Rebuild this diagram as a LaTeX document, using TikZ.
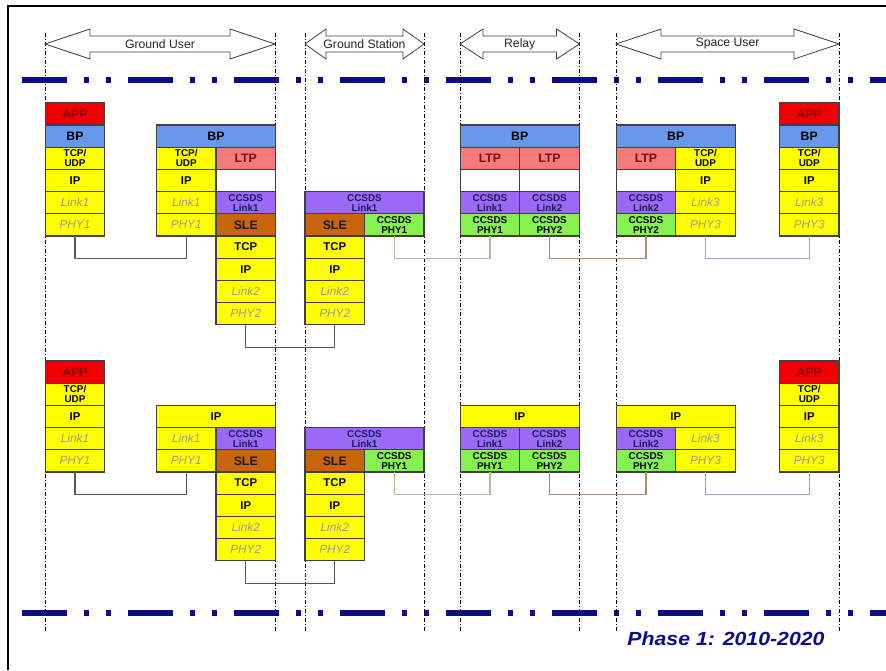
\documentclass[tikz,border=0pt]{standalone}
\usepackage{fontspec}
\setmainfont{Liberation Sans}
\newfontfamily\phasefont{Liberation Sans}[FakeStretch=1.12]
\usetikzlibrary{positioning}
\definecolor{navyline}{HTML}{0C0C86}
\definecolor{cellline}{HTML}{404040}
\definecolor{appred}{HTML}{F20000}
\definecolor{appink}{HTML}{8E0000}
\definecolor{bpblue}{HTML}{6699EE}
\definecolor{ylw}{HTML}{FFFF00}
\definecolor{italgrey}{HTML}{9C9C94}
\definecolor{ltppink}{HTML}{F57A7A}
\definecolor{ltpink}{HTML}{7A1010}
\definecolor{ccpurple}{HTML}{9B69F5}
\definecolor{ccink}{HTML}{1A1A5A}
\definecolor{ccgreen}{HTML}{86F250}
\definecolor{slebrown}{HTML}{C8640A}
\definecolor{wiregrey}{HTML}{5A5A5A}
\definecolor{wireolive}{HTML}{BCB89E}
\definecolor{wiretan}{HTML}{AE8C6E}
\definecolor{wirelilac}{HTML}{B496D2}
\tikzset{
  cell/.style      = {draw=cellline, line width=1.1pt, minimum width=59.5pt,
                      minimum height=22.2pt, inner sep=0pt, outer sep=0pt, align=center},
  widecell/.style  = {minimum width=119pt},
  bigtxt/.style    = {font=\fontsize{12.3}{13}\selectfont\bfseries},
  smalltxt/.style  = {font=\fontsize{9.9}{10.2}\selectfont\bfseries},
  appcell/.style   = {cell, bigtxt, fill=appred, text=appink},
  bpcell/.style    = {cell, bigtxt, fill=bpblue, text=black},
  tcpcell/.style   = {cell, smalltxt, fill=ylw, text=black},
  ipcell/.style    = {cell, fill=ylw, text=black, font=\fontsize{11.3}{12}\selectfont\bfseries},
  linkcell/.style  = {cell, fill=ylw, text=italgrey, font=\fontsize{11.8}{12}\selectfont\itshape},
  ltpcell/.style   = {cell, bigtxt, fill=ltppink, text=ltpink},
  cclinkcell/.style= {cell, smalltxt, fill=ccpurple, text=ccink},
  ccphycell/.style = {cell, smalltxt, fill=ccgreen, text=black},
  slecell/.style   = {cell, bigtxt, fill=slebrown, text=black!90},
  blankcell/.style = {cell, fill=white},
  wire/.style      = {draw=wiregrey, line width=1.1pt},
  guide/.style     = {draw=black, line width=0.6pt, dash pattern=on 4pt off 2pt on 1pt off 2pt},
  phaseline/.style = {draw=navyline, line width=5.5pt,
                      dash pattern=on 45pt off 17pt on 5pt off 17pt on 5pt off 17pt},
  spanarr/.style   = {draw=cellline, fill=white, line width=0.8pt},
  spanlabel/.style = {font=\fontsize{12.2}{13}\selectfont, text=black!85},
}
% double headed block arrow: name, left x, right x, head length, label
\newcommand{\spanarrow}[5]{%
  \draw[spanarr] (#2,44) -- (#2+#4,29) -- (#2+#4,36) -- (#3-#4,36) -- (#3-#4,29)
    -- (#3,44) -- (#3-#4,59) -- (#3-#4,52) -- (#2+#4,52) -- (#2+#4,59) -- cycle;
  \node[spanlabel] (#1) at ({(#2+#3)/2},44) {#5};}

\begin{document}
\begin{tikzpicture}[x=1pt,y=-1pt,node distance=0pt]
  \useasboundingbox (0,0) rectangle (886,670);
  \draw[line width=2pt] (8,670) -- (8,6) -- (886,6);

  % phase separators and column guides
  \draw[phaseline] (22,80) -- (886,80);
  \draw[phaseline] (22,613) -- (886,613);
  \foreach \gx in {45,275,305,424,460,579.5,616,839}
    \draw[guide] (\gx,33) -- (\gx,632);

  \spanarrow{lbl-gu}{45}{275}{45}{Ground User}
  \spanarrow{lbl-gs}{305}{424}{21}{Ground Station}
  \spanarrow{lbl-rel}{460}{579.5}{23}{Relay}
  \spanarrow{lbl-su}{616}{839}{45}{Space User}

  % ---------- BP stacks ----------
  % ground user host
  \node[appcell] (guh-app) at (75,113.9) {APP};
  \node[bpcell,below=of guh-app] (guh-bp) {BP};
  \node[tcpcell,below=of guh-bp] (guh-tcp) {TCP/\\UDP};
  \node[ipcell,below=of guh-tcp] (guh-ip) {IP};
  \node[linkcell,below=of guh-ip] (guh-link) {Link1};
  \node[linkcell,below=of guh-link] (guh-phy) {PHY1};

  % ground user router
  \node[bpcell,widecell] (gur-bp) at (216,136.1) {BP};
  \node[tcpcell,below right=of gur-bp.south west] (gur-tcp) {TCP/\\UDP};
  \node[ltpcell,right=of gur-tcp] (gur-ltp) {LTP};
  \node[ipcell,below=of gur-tcp] (gur-ip) {IP};
  \node[blankcell,right=of gur-ip] (gur-gap) {};
  \node[linkcell,below=of gur-ip] (gur-link) {Link1};
  \node[cclinkcell,right=of gur-link] (gur-cclink) {CCSDS\\Link1};
  \node[linkcell,below=of gur-link] (gur-phy) {PHY1};
  \node[slecell,right=of gur-phy] (gur-sle) {SLE};
  \node[ipcell,below=of gur-sle] (gur-tcp2) {TCP};
  \node[ipcell,below=of gur-tcp2] (gur-ip2) {IP};
  \node[linkcell,below=of gur-ip2] (gur-link2) {Link2};
  \node[linkcell,below=of gur-link2] (gur-phy2) {PHY2};

  % ground station
  \node[cclinkcell,widecell] (gs-cclink) at (364.5,202.7) {CCSDS\\Link1};
  \node[slecell,below right=of gs-cclink.south west] (gs-sle) {SLE};
  \node[ccphycell,right=of gs-sle] (gs-ccphy) {CCSDS\\PHY1};
  \node[ipcell,below=of gs-sle] (gs-tcp) {TCP};
  \node[ipcell,below=of gs-tcp] (gs-ip) {IP};
  \node[linkcell,below=of gs-ip] (gs-link) {Link2};
  \node[linkcell,below=of gs-link] (gs-phy) {PHY2};

  % relay
  \node[bpcell,widecell] (rel-bp) at (519.75,136.1) {BP};
  \node[ltpcell,below right=of rel-bp.south west] (rel-ltp1) {LTP};
  \node[ltpcell,right=of rel-ltp1] (rel-ltp2) {LTP};
  \node[blankcell,below=of rel-ltp1] (rel-gap1) {};
  \node[blankcell,below=of rel-ltp2] (rel-gap2) {};
  \node[cclinkcell,below=of rel-gap1] (rel-cclink1) {CCSDS\\Link1};
  \node[cclinkcell,below=of rel-gap2] (rel-cclink2) {CCSDS\\Link2};
  \node[ccphycell,below=of rel-cclink1] (rel-ccphy1) {CCSDS\\PHY1};
  \node[ccphycell,below=of rel-cclink2] (rel-ccphy2) {CCSDS\\PHY2};

  % space user router
  \node[bpcell,widecell] (sur-bp) at (675.75,136.1) {BP};
  \node[ltpcell,below right=of sur-bp.south west] (sur-ltp) {LTP};
  \node[tcpcell,right=of sur-ltp] (sur-tcp) {TCP/\\UDP};
  \node[blankcell,below=of sur-ltp] (sur-gap) {};
  \node[ipcell,below=of sur-tcp] (sur-ip) {IP};
  \node[cclinkcell,below=of sur-gap] (sur-cclink) {CCSDS\\Link2};
  \node[linkcell,below=of sur-ip] (sur-link) {Link3};
  \node[ccphycell,below=of sur-cclink] (sur-ccphy) {CCSDS\\PHY2};
  \node[linkcell,below=of sur-link] (sur-phy) {PHY3};

  % space user host
  \node[appcell] (suh-app) at (809.25,113.9) {APP};
  \node[bpcell,below=of suh-app] (suh-bp) {BP};
  \node[tcpcell,below=of suh-bp] (suh-tcp) {TCP/\\UDP};
  \node[ipcell,below=of suh-tcp] (suh-ip) {IP};
  \node[linkcell,below=of suh-ip] (suh-link) {Link3};
  \node[linkcell,below=of suh-link] (suh-phy) {PHY3};

  \draw[wire] (guh-phy.south) -- ++(0,22.3) -| (gur-phy.south);
  \draw[wire] (gur-phy2.south) -- ++(0,22.3) -| (gs-phy.south);
  \draw[wire,draw=wireolive] (gs-ccphy.south) -- ++(0,22.3) -| (rel-ccphy1.south);
  \draw[wire,draw=wiretan] (rel-ccphy2.south) -- ++(0,22.3) -| (sur-ccphy.south);
  \draw[wire,draw=wirelilac] (sur-phy.south) -- ++(0,22.3) -| (suh-phy.south);

  % ---------- IP stacks ----------
  % ground user host
  \node[appcell] (bguh-app) at (75,372.1) {APP};
  \node[tcpcell,below=of bguh-app] (bguh-tcp) {TCP/\\UDP};
  \node[ipcell,below=of bguh-tcp] (bguh-ip) {IP};
  \node[linkcell,below=of bguh-ip] (bguh-link) {Link1};
  \node[linkcell,below=of bguh-link] (bguh-phy) {PHY1};

  % ground user router
  \node[ipcell,widecell] (bgur-ip) at (216,416.5) {IP};
  \node[linkcell,below right=of bgur-ip.south west] (bgur-link) {Link1};
  \node[cclinkcell,right=of bgur-link] (bgur-cclink) {CCSDS\\Link1};
  \node[linkcell,below=of bgur-link] (bgur-phy) {PHY1};
  \node[slecell,right=of bgur-phy] (bgur-sle) {SLE};
  \node[ipcell,below=of bgur-sle] (bgur-tcp2) {TCP};
  \node[ipcell,below=of bgur-tcp2] (bgur-ip2) {IP};
  \node[linkcell,below=of bgur-ip2] (bgur-link2) {Link2};
  \node[linkcell,below=of bgur-link2] (bgur-phy2) {PHY2};

  % ground station
  \node[cclinkcell,widecell] (bgs-cclink) at (364.5,438.7) {CCSDS\\Link1};
  \node[slecell,below right=of bgs-cclink.south west] (bgs-sle) {SLE};
  \node[ccphycell,right=of bgs-sle] (bgs-ccphy) {CCSDS\\PHY1};
  \node[ipcell,below=of bgs-sle] (bgs-tcp) {TCP};
  \node[ipcell,below=of bgs-tcp] (bgs-ip) {IP};
  \node[linkcell,below=of bgs-ip] (bgs-link) {Link2};
  \node[linkcell,below=of bgs-link] (bgs-phy) {PHY2};

  % relay
  \node[ipcell,widecell] (brel-ip) at (519.75,416.5) {IP};
  \node[cclinkcell,below right=of brel-ip.south west] (brel-cclink1) {CCSDS\\Link1};
  \node[cclinkcell,right=of brel-cclink1] (brel-cclink2) {CCSDS\\Link2};
  \node[ccphycell,below=of brel-cclink1] (brel-ccphy1) {CCSDS\\PHY1};
  \node[ccphycell,below=of brel-cclink2] (brel-ccphy2) {CCSDS\\PHY2};

  % space user router
  \node[ipcell,widecell] (bsur-ip) at (675.75,416.5) {IP};
  \node[cclinkcell,below right=of bsur-ip.south west] (bsur-cclink) {CCSDS\\Link2};
  \node[linkcell,right=of bsur-cclink] (bsur-link) {Link3};
  \node[ccphycell,below=of bsur-cclink] (bsur-ccphy) {CCSDS\\PHY2};
  \node[linkcell,below=of bsur-link] (bsur-phy) {PHY3};

  % space user host
  \node[appcell] (bsuh-app) at (809.25,372.1) {APP};
  \node[tcpcell,below=of bsuh-app] (bsuh-tcp) {TCP/\\UDP};
  \node[ipcell,below=of bsuh-tcp] (bsuh-ip) {IP};
  \node[linkcell,below=of bsuh-ip] (bsuh-link) {Link3};
  \node[linkcell,below=of bsuh-link] (bsuh-phy) {PHY3};

  \draw[wire] (bguh-phy.south) -- ++(0,22.3) -| (bgur-phy.south);
  \draw[wire] (bgur-phy2.south) -- ++(0,22.3) -| (bgs-phy.south);
  \draw[wire,draw=wireolive] (bgs-ccphy.south) -- ++(0,22.3) -| (brel-ccphy1.south);
  \draw[wire,draw=wiretan] (brel-ccphy2.south) -- ++(0,22.3) -| (bsur-ccphy.south);
  \draw[wire,draw=wirelilac] (bsur-phy.south) -- ++(0,22.3) -| (bsuh-phy.south);

  \node[font=\phasefont\fontsize{19}{22}\selectfont\bfseries\itshape, text=navyline]
    (phase) at (726,639) {Phase 1: 2010-2020};
\end{tikzpicture}
\end{document}
